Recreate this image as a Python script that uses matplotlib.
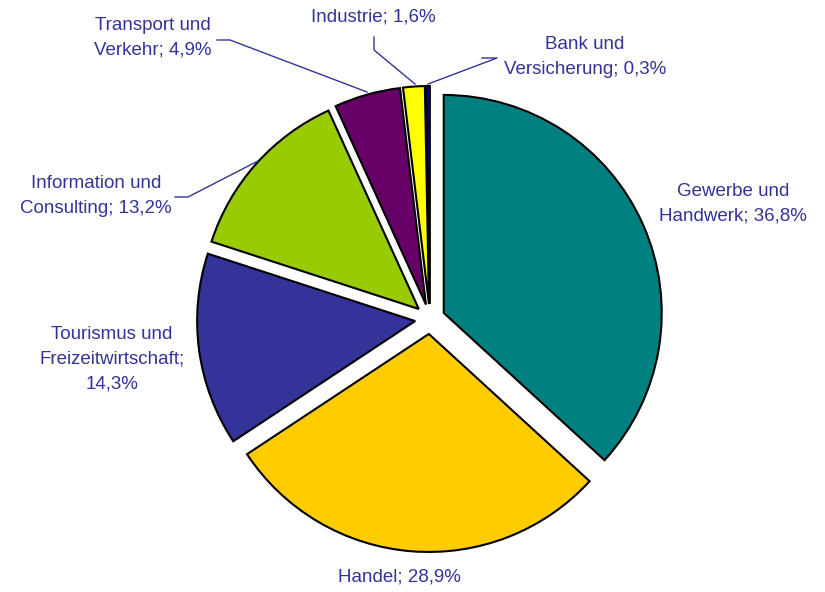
import matplotlib
matplotlib.use("Agg")
from matplotlib import pyplot as plt

# -- Data ------------------------------------------------------------------
branchen = ["Gewerbe und\nHandwerk", "Handel", "Tourismus und\nFreizeitwirtschaft;\n",
            "Information und\nConsulting", "Transport und\nVerkehr", "Industrie",
            "Bank und\nVersicherung"]
anteile = [36.8, 28.9, 14.3, 13.2, 4.9, 1.6, 0.3]
farben = ["#008080", "#FFCC00", "#333399", "#99CC00", "#660066", "#FFFF00", "#000080"]

W, H = 825, 592
TXT = "#333399"


def img(x, y):
    # image pixel coords (y down) -> data coords (y up)
    return x, H - y


def fmt(v):
    return f"{v:.1f}".replace(".", ",") + "%"


fig = plt.figure(figsize=(W / 100, H / 100), dpi=100)
ax = fig.add_axes([0, 0, 1, 1])

cx, cy = img(430, 319)
ax.pie(anteile, colors=farben, startangle=90, counterclock=False,
       radius=218, center=(cx, cy), explode=[15] * len(anteile),
       wedgeprops=dict(edgecolor="black", linewidth=1.5))

ax.set_xlim(0, W)
ax.set_ylim(0, H)
ax.set_aspect("equal")
ax.axis("off")

# -- Labels ----------------------------------------------------------------
# "Handel" and "Industrie" stay on one line, Tourismus puts the value on its own line
label_texts = []
for name, v in zip(branchen, anteile):
    sep = "" if name.endswith("\n") else "; "
    label_texts.append(name + sep + fmt(v))

label_pos = [(733, 204), (399, 577), (112, 359), (96, 196),
             (153, 38), (373, 17), (585, 57)]

for t, (x, y) in zip(label_texts, label_pos):
    ax.text(*img(x, y), t, ha="center", va="center", fontsize=13.5,
            color=TXT, family="Liberation Sans", linespacing=1.6)

# leader lines for the small slices
leaders = [
    [(175, 197), (188, 197), (258, 161)],
    [(217, 40), (230, 40), (367, 92)],
    [(374, 37), (374, 50), (415, 84)],
    [(482, 58), (497, 58), (428, 84)],
]
for pts in leaders:
    xs = [img(*p)[0] for p in pts]
    ys = [img(*p)[1] for p in pts]
    ax.plot(xs, ys, color=TXT, linewidth=1)

fig.savefig("out.png", dpi=100)
